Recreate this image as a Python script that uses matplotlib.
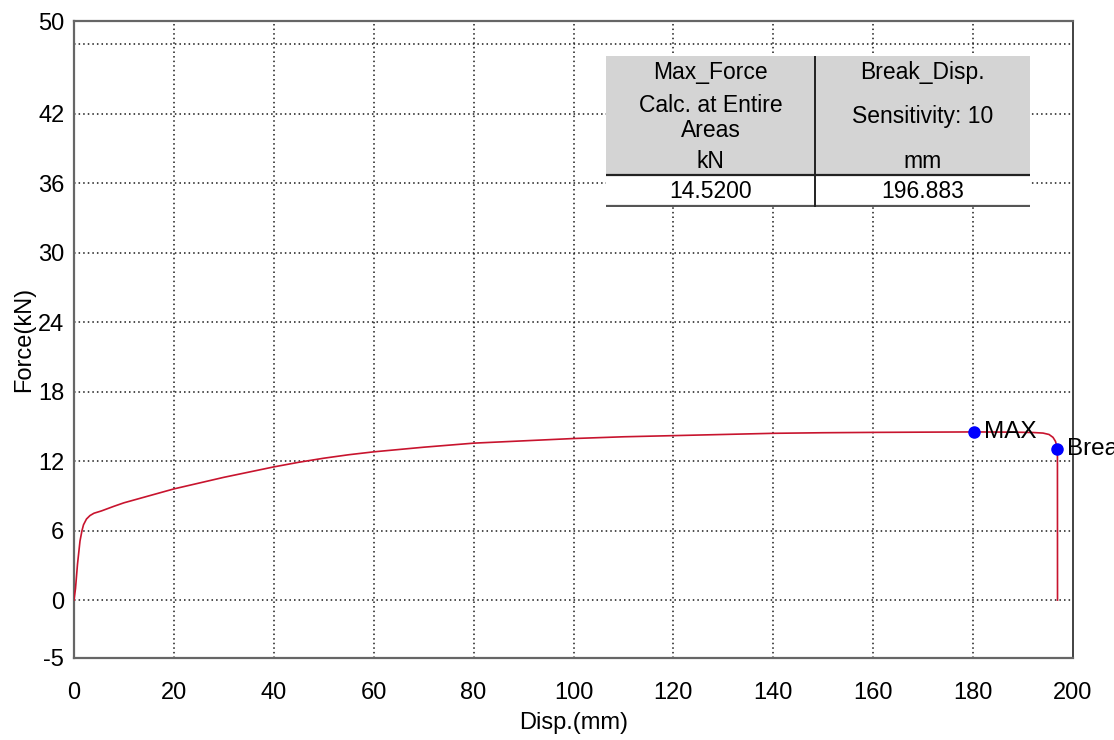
import matplotlib
matplotlib.use("Agg")
import matplotlib.pyplot as plt
import numpy as np
from matplotlib.patches import Rectangle

plt.rcParams['font.family'] = ['Liberation Sans', 'DejaVu Sans']
plt.rcParams['axes.unicode_minus'] = False

# force-displacement record (mm, kN)
disp = [0.0, 0.3, 0.7, 1.2, 1.6, 1.9, 2.5, 3.2, 4.0, 5.5, 8.0, 10.0, 15.0, 20.0,
        25.0, 30.0, 35.0, 40.0, 45.0, 50.0, 55.0, 60.0, 70.0, 80.0, 90.0, 100.0,
        110.0, 120.0, 130.0, 140.0, 150.0, 160.0, 170.0, 180.2, 188.0, 192.0,
        194.0, 195.2, 196.0, 196.5, 196.883, 196.9]
force = [0.0, 1.0, 3.1, 5.1, 6.0, 6.5, 7.0, 7.3, 7.5, 7.7, 8.1, 8.4, 9.0, 9.6,
         10.1, 10.6, 11.05, 11.5, 11.9, 12.25, 12.55, 12.8, 13.2, 13.55, 13.75, 13.95,
         14.1, 14.2, 14.3, 14.4, 14.45, 14.48, 14.5, 14.52, 14.5, 14.47,
         14.42, 14.3, 14.05, 13.7, 13.05, 0.0]

max_point = (180.2, 14.52)
break_point = (196.883, 13.05)

x_ticks = [0, 20, 40, 60, 80, 100, 120, 140, 160, 180, 200]
x_grid = [20, 40, 60, 80, 100, 120, 140, 160, 180]
y_ticks = [-5, 0, 6, 12, 18, 24, 30, 36, 42, 50]
y_grid = [0, 6, 12, 18, 24, 30, 36, 42, 48]

col_headers = [["Max_Force", "Calc. at Entire\nAreas", "kN"],
               ["Break_Disp.", "Sensitivity: 10", "mm"]]
col_values = ["14.5200", "196.883"]

fig = plt.figure(figsize=(11.14, 7.4), dpi=100)
ax = fig.add_axes([74 / 1114, 1 - 658 / 740, 999 / 1114, 637 / 740])

grid_style = dict(color='#1a1a1a', linestyle=(0, (1, 2)), lw=1.1, zorder=1)
for gx in x_grid:
    ax.axvline(gx, **grid_style)
for gy in y_grid:
    ax.axhline(gy, **grid_style)

ax.plot(disp, force, color='#c8142e', lw=1.2, zorder=3)
ax.plot(*max_point, 'o', color='#0000ff', ms=8, zorder=4)
ax.plot(*break_point, 'o', color='#0000ff', ms=8, zorder=4)
ax.text(max_point[0] + 2, max_point[1], "MAX", fontsize=17.5, va='center', ha='left', zorder=5)
ax.text(break_point[0] + 2, break_point[1], "Break", fontsize=17.5, va='center', ha='left',
        clip_on=False, zorder=5)

ax.set_xlim(0, 200)
ax.set_ylim(-5, 50)
ax.set_xticks(x_ticks)
ax.set_yticks(y_ticks)
ax.tick_params(length=0, labelsize=17)
ax.tick_params(axis='x', pad=17)
ax.tick_params(axis='y', pad=7)

for side in ['left', 'bottom', 'top']:
    ax.spines[side].set_color('#666666')
    ax.spines[side].set_linewidth(1.6)
ax.spines['right'].set_color('#222222')
ax.spines['right'].set_linewidth(1.2)

ax.set_xlabel("Disp.(mm)", fontsize=17, labelpad=6)
ax.set_ylabel("Force(kN)", fontsize=17, labelpad=2)

# results table, laid out in pixel units
tab = fig.add_axes([606 / 1114, 1 - 207 / 740, 424 / 1114, 151 / 740])
tab.set_xlim(0, 424)
tab.set_ylim(151, 0)
tab.axis('off')
tab.add_patch(Rectangle((0, 0), 424, 119, facecolor='#d4d4d4', edgecolor='none'))
tab.add_patch(Rectangle((0, 119), 424, 31, facecolor='white', edgecolor='none'))
tab.plot([0, 424], [119, 119], color='#222222', lw=1.6)
tab.plot([0, 424], [150, 150], color='#555555', lw=1.6)
tab.plot([209, 209], [0, 150], color='#222222', lw=1.4)

tfont = dict(fontsize=16.5, ha='center', va='center')
centers = [104.5, 316.5]
tab.text(centers[0], 17, col_headers[0][0], **tfont)
tab.text(centers[0], 62, col_headers[0][1], linespacing=1.12, **tfont)
tab.text(centers[0], 106, col_headers[0][2], **tfont)
tab.text(centers[1], 17, col_headers[1][0], **tfont)
tab.text(centers[1], 61, col_headers[1][1], **tfont)
tab.text(centers[1], 106, col_headers[1][2], **tfont)
for c, v in zip(centers, col_values):
    tab.text(c, 136, v, **tfont)

fig.savefig("out.png", dpi=100)
